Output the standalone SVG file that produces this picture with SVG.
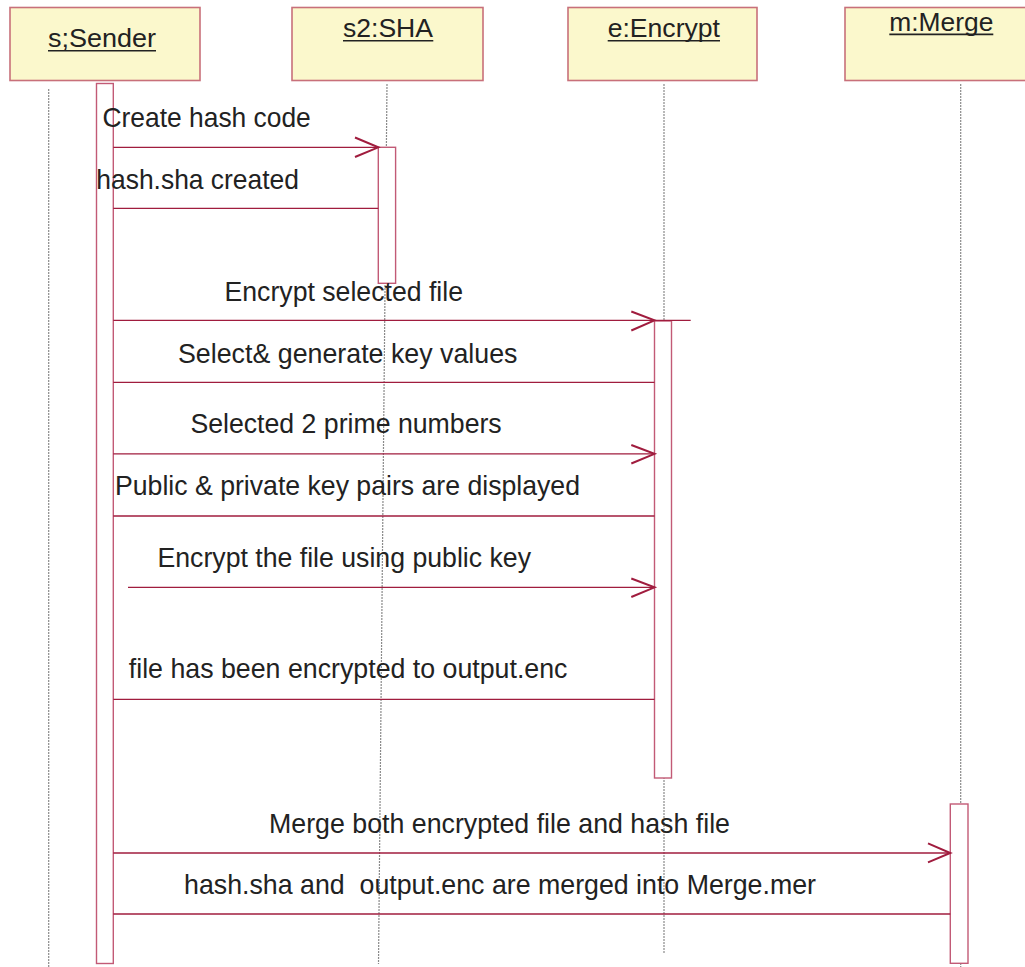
<svg xmlns="http://www.w3.org/2000/svg" width="1025" height="967" viewBox="0 0 1025 967">
<style>
.box{fill:#fbf8cc;stroke:#c8707a;stroke-width:1.6}
.life{stroke:#8a8a8a;stroke-width:1.2;stroke-dasharray:2 1;fill:none}
.act{fill:#ffffff;stroke:#c25a76;stroke-width:1.4}
.msg{stroke:#a01c3e;stroke-width:1.3;fill:none}
.head{fill:none;stroke:#a01c3e;stroke-width:2}
.t{font-family:"Liberation Sans",Arial,sans-serif;font-size:27.5px;fill:#222222}
.h{font-family:"Liberation Sans",Arial,sans-serif;font-size:25.5px;fill:#222222}
.ul{stroke:#222222;stroke-width:1.6}
</style>
<rect width="1025" height="967" fill="#ffffff"/>
<g id="lifelines">
<line class="life" x1="48.7" y1="89" x2="48.7" y2="967"/>
<line class="life" x1="387" y1="84" x2="378.5" y2="964"/>
<line class="life" x1="664" y1="84" x2="664" y2="953"/>
<line class="life" x1="960.7" y1="84" x2="960.7" y2="967"/>
</g>
<g id="sender">
<rect class="box" x="10" y="7.5" width="190" height="73"/>
<text class="h" x="48" y="47" textLength="108" lengthAdjust="spacingAndGlyphs">s;Sender</text>
<line class="ul" x1="48" y1="50.7" x2="156" y2="50.7"/>
<rect class="act" x="96.5" y="83.5" width="16.8" height="880"/>
</g>
<g id="sha">
<rect class="box" x="292" y="7.5" width="191" height="73"/>
<text class="h" x="343" y="36.5" textLength="90" lengthAdjust="spacingAndGlyphs">s2:SHA</text>
<line class="ul" x1="343" y1="40.7" x2="433.3" y2="40.7"/>
<rect class="act" x="378.3" y="147.3" width="17.3" height="136"/>
</g>
<g id="encrypt">
<rect class="box" x="568" y="7.5" width="189" height="73"/>
<text class="h" x="607.7" y="36.5" textLength="112.3" lengthAdjust="spacingAndGlyphs">e:Encrypt</text>
<line class="ul" x1="607.7" y1="40.7" x2="720" y2="40.7"/>
<rect class="act" x="654.5" y="321" width="17" height="457"/>
</g>
<g id="merge">
<rect class="box" x="845" y="7.5" width="190" height="73"/>
<text class="h" x="889.3" y="30.5" textLength="104" lengthAdjust="spacingAndGlyphs">m:Merge</text>
<line class="ul" x1="889.3" y1="34.4" x2="993.3" y2="34.4"/>
<rect class="act" x="950.3" y="804" width="17.7" height="159.3"/>
</g>
<g id="connectors">
<line class="msg" x1="113.3" y1="147.3" x2="378.3" y2="147.3"/>
<polyline class="head" points="355,137.5 378.3,147.3 355,157"/>
<line class="msg" x1="113.3" y1="208.3" x2="378.3" y2="208.3"/>
<line class="msg" x1="113.3" y1="320.3" x2="690.7" y2="320.3"/>
<polyline class="head" points="631.3,311.5 654.5,320.3 631.3,330.5"/>
<line class="msg" x1="113.3" y1="382.3" x2="654.5" y2="382.3"/>
<line class="msg" x1="113.3" y1="453.8" x2="654.5" y2="453.8"/>
<polyline class="head" points="631.3,445 654.5,453.8 631.3,463.5"/>
<line class="msg" x1="113.3" y1="516" x2="654.5" y2="516"/>
<line class="msg" x1="128" y1="587.3" x2="654.5" y2="587.3"/>
<polyline class="head" points="631.3,578.5 654.5,587.3 631.3,597"/>
<line class="msg" x1="113.3" y1="699.3" x2="654.5" y2="699.3"/>
<line class="msg" x1="113.3" y1="853" x2="950.3" y2="853"/>
<polyline class="head" points="928,843.3 950.3,853 928,862.3"/>
<line class="msg" x1="113.3" y1="914" x2="950.3" y2="914"/>
</g>
<g id="labels">
<text class="t" x="102.5" y="127.3" textLength="208.3" lengthAdjust="spacingAndGlyphs">Create hash code</text>
<text class="t" x="96.3" y="189" textLength="202.7" lengthAdjust="spacingAndGlyphs">hash.sha created</text>
<text class="t" x="224.5" y="300.7" textLength="238.5" lengthAdjust="spacingAndGlyphs">Encrypt selected file</text>
<text class="t" x="178" y="363.3" textLength="339.5" lengthAdjust="spacingAndGlyphs">Select&amp; generate key values</text>
<text class="t" x="190.4" y="433.3" textLength="311.3" lengthAdjust="spacingAndGlyphs">Selected 2 prime numbers</text>
<text class="t" x="115" y="495" textLength="465" lengthAdjust="spacingAndGlyphs">Public &amp; private key pairs are displayed</text>
<text class="t" x="157.5" y="566.7" textLength="373.5" lengthAdjust="spacingAndGlyphs">Encrypt the file using public key</text>
<text class="t" x="128.8" y="678.3" textLength="438.7" lengthAdjust="spacingAndGlyphs">file has been encrypted to output.enc</text>
<text class="t" x="269" y="832.5" textLength="461" lengthAdjust="spacingAndGlyphs">Merge both encrypted file and hash file</text>
<text class="t" x="184" y="894.3" textLength="632" lengthAdjust="spacingAndGlyphs" xml:space="preserve">hash.sha and  output.enc are merged into Merge.mer</text>
</g>
</svg>
